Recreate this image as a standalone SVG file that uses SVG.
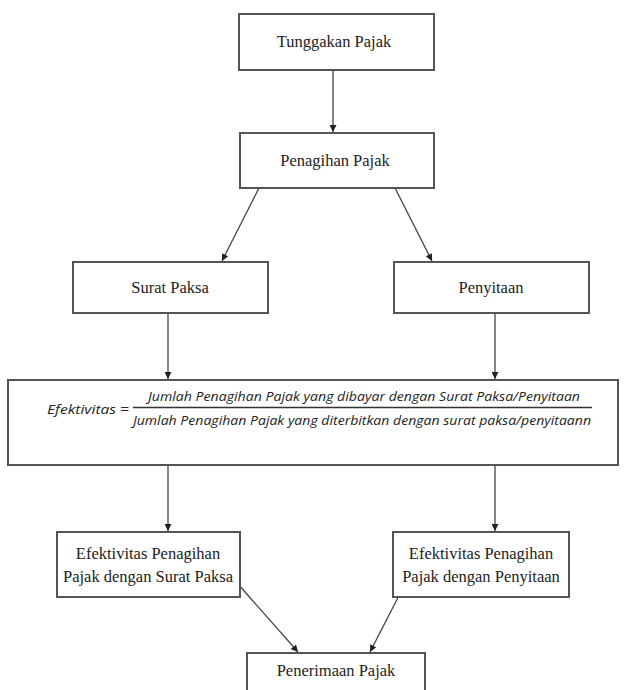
<svg xmlns="http://www.w3.org/2000/svg" width="625" height="690" viewBox="0 0 625 690">
<defs>
<marker id="ah" viewBox="0 0 10 10" refX="10" refY="5" markerWidth="7" markerHeight="7" markerUnits="userSpaceOnUse" orient="auto">
<path d="M0,0 L10,5 L0,10 z" fill="#222"/>
</marker>
<style>
.box{fill:#fff;stroke:#555;stroke-width:2}
.t{font-family:"Liberation Serif","Times New Roman",serif;font-size:16.5px;fill:#222;text-anchor:middle}
.f{font-family:"Open Sans","DejaVu Sans",sans-serif;font-style:italic;font-size:12.5px;fill:#222}
.c{stroke:#444;stroke-width:1.3;fill:none;marker-end:url(#ah)}
</style>
</defs>
<rect width="625" height="690" fill="#fff"/>
<g id="connectors">
<line class="c" x1="333" y1="70" x2="333" y2="132"/>
<line class="c" x1="259" y1="188" x2="222" y2="261"/>
<line class="c" x1="395" y1="188" x2="432" y2="261"/>
<line class="c" x1="168" y1="313" x2="168" y2="379"/>
<line class="c" x1="495" y1="313" x2="495" y2="379"/>
<line class="c" x1="168" y1="465" x2="168" y2="531"/>
<line class="c" x1="495" y1="465" x2="495" y2="531"/>
<line class="c" x1="238" y1="584" x2="298" y2="652"/>
<line class="c" x1="405" y1="584" x2="370" y2="652"/>
</g>
<g id="tunggakan">
<rect class="box" x="239" y="14" width="195" height="56"/>
<text class="t" x="334" y="47">Tunggakan Pajak</text>
</g>
<g id="penagihan">
<rect class="box" x="240" y="133" width="194" height="55"/>
<text class="t" x="335" y="166">Penagihan Pajak</text>
</g>
<g id="surat-paksa">
<rect class="box" x="73" y="262" width="195" height="51"/>
<text class="t" x="170" y="293">Surat Paksa</text>
</g>
<g id="penyitaan">
<rect class="box" x="394" y="262" width="195" height="51"/>
<text class="t" x="491" y="293">Penyitaan</text>
</g>
<g id="formula">
<rect class="box" x="8" y="380" width="610" height="85"/>
<text class="f" x="47" y="414" textLength="82" lengthAdjust="spacingAndGlyphs">Efektivitas =</text>
<text class="f" x="148" y="401" textLength="432" lengthAdjust="spacingAndGlyphs">Jumlah Penagihan Pajak yang dibayar dengan Surat Paksa/Penyitaan</text>
<line x1="133" y1="407.5" x2="592" y2="407.5" stroke="#333" stroke-width="1.3"/>
<text class="f" x="133" y="425" textLength="458" lengthAdjust="spacingAndGlyphs">Jumlah Penagihan Pajak yang diterbitkan dengan surat paksa/penyitaann</text>
</g>
<g id="efektivitas-surat-paksa">
<rect class="box" x="57" y="532" width="183" height="65"/>
<text class="t" x="148" y="559">Efektivitas Penagihan</text>
<text class="t" x="148" y="582">Pajak dengan Surat Paksa</text>
</g>
<g id="efektivitas-penyitaan">
<rect class="box" x="393" y="532" width="176" height="65"/>
<text class="t" x="481" y="559">Efektivitas Penagihan</text>
<text class="t" x="481" y="582">Pajak dengan Penyitaan</text>
</g>
<g id="penerimaan">
<rect class="box" x="247" y="653" width="178" height="45"/>
<text class="t" x="336" y="676">Penerimaan Pajak</text>
</g>
</svg>
